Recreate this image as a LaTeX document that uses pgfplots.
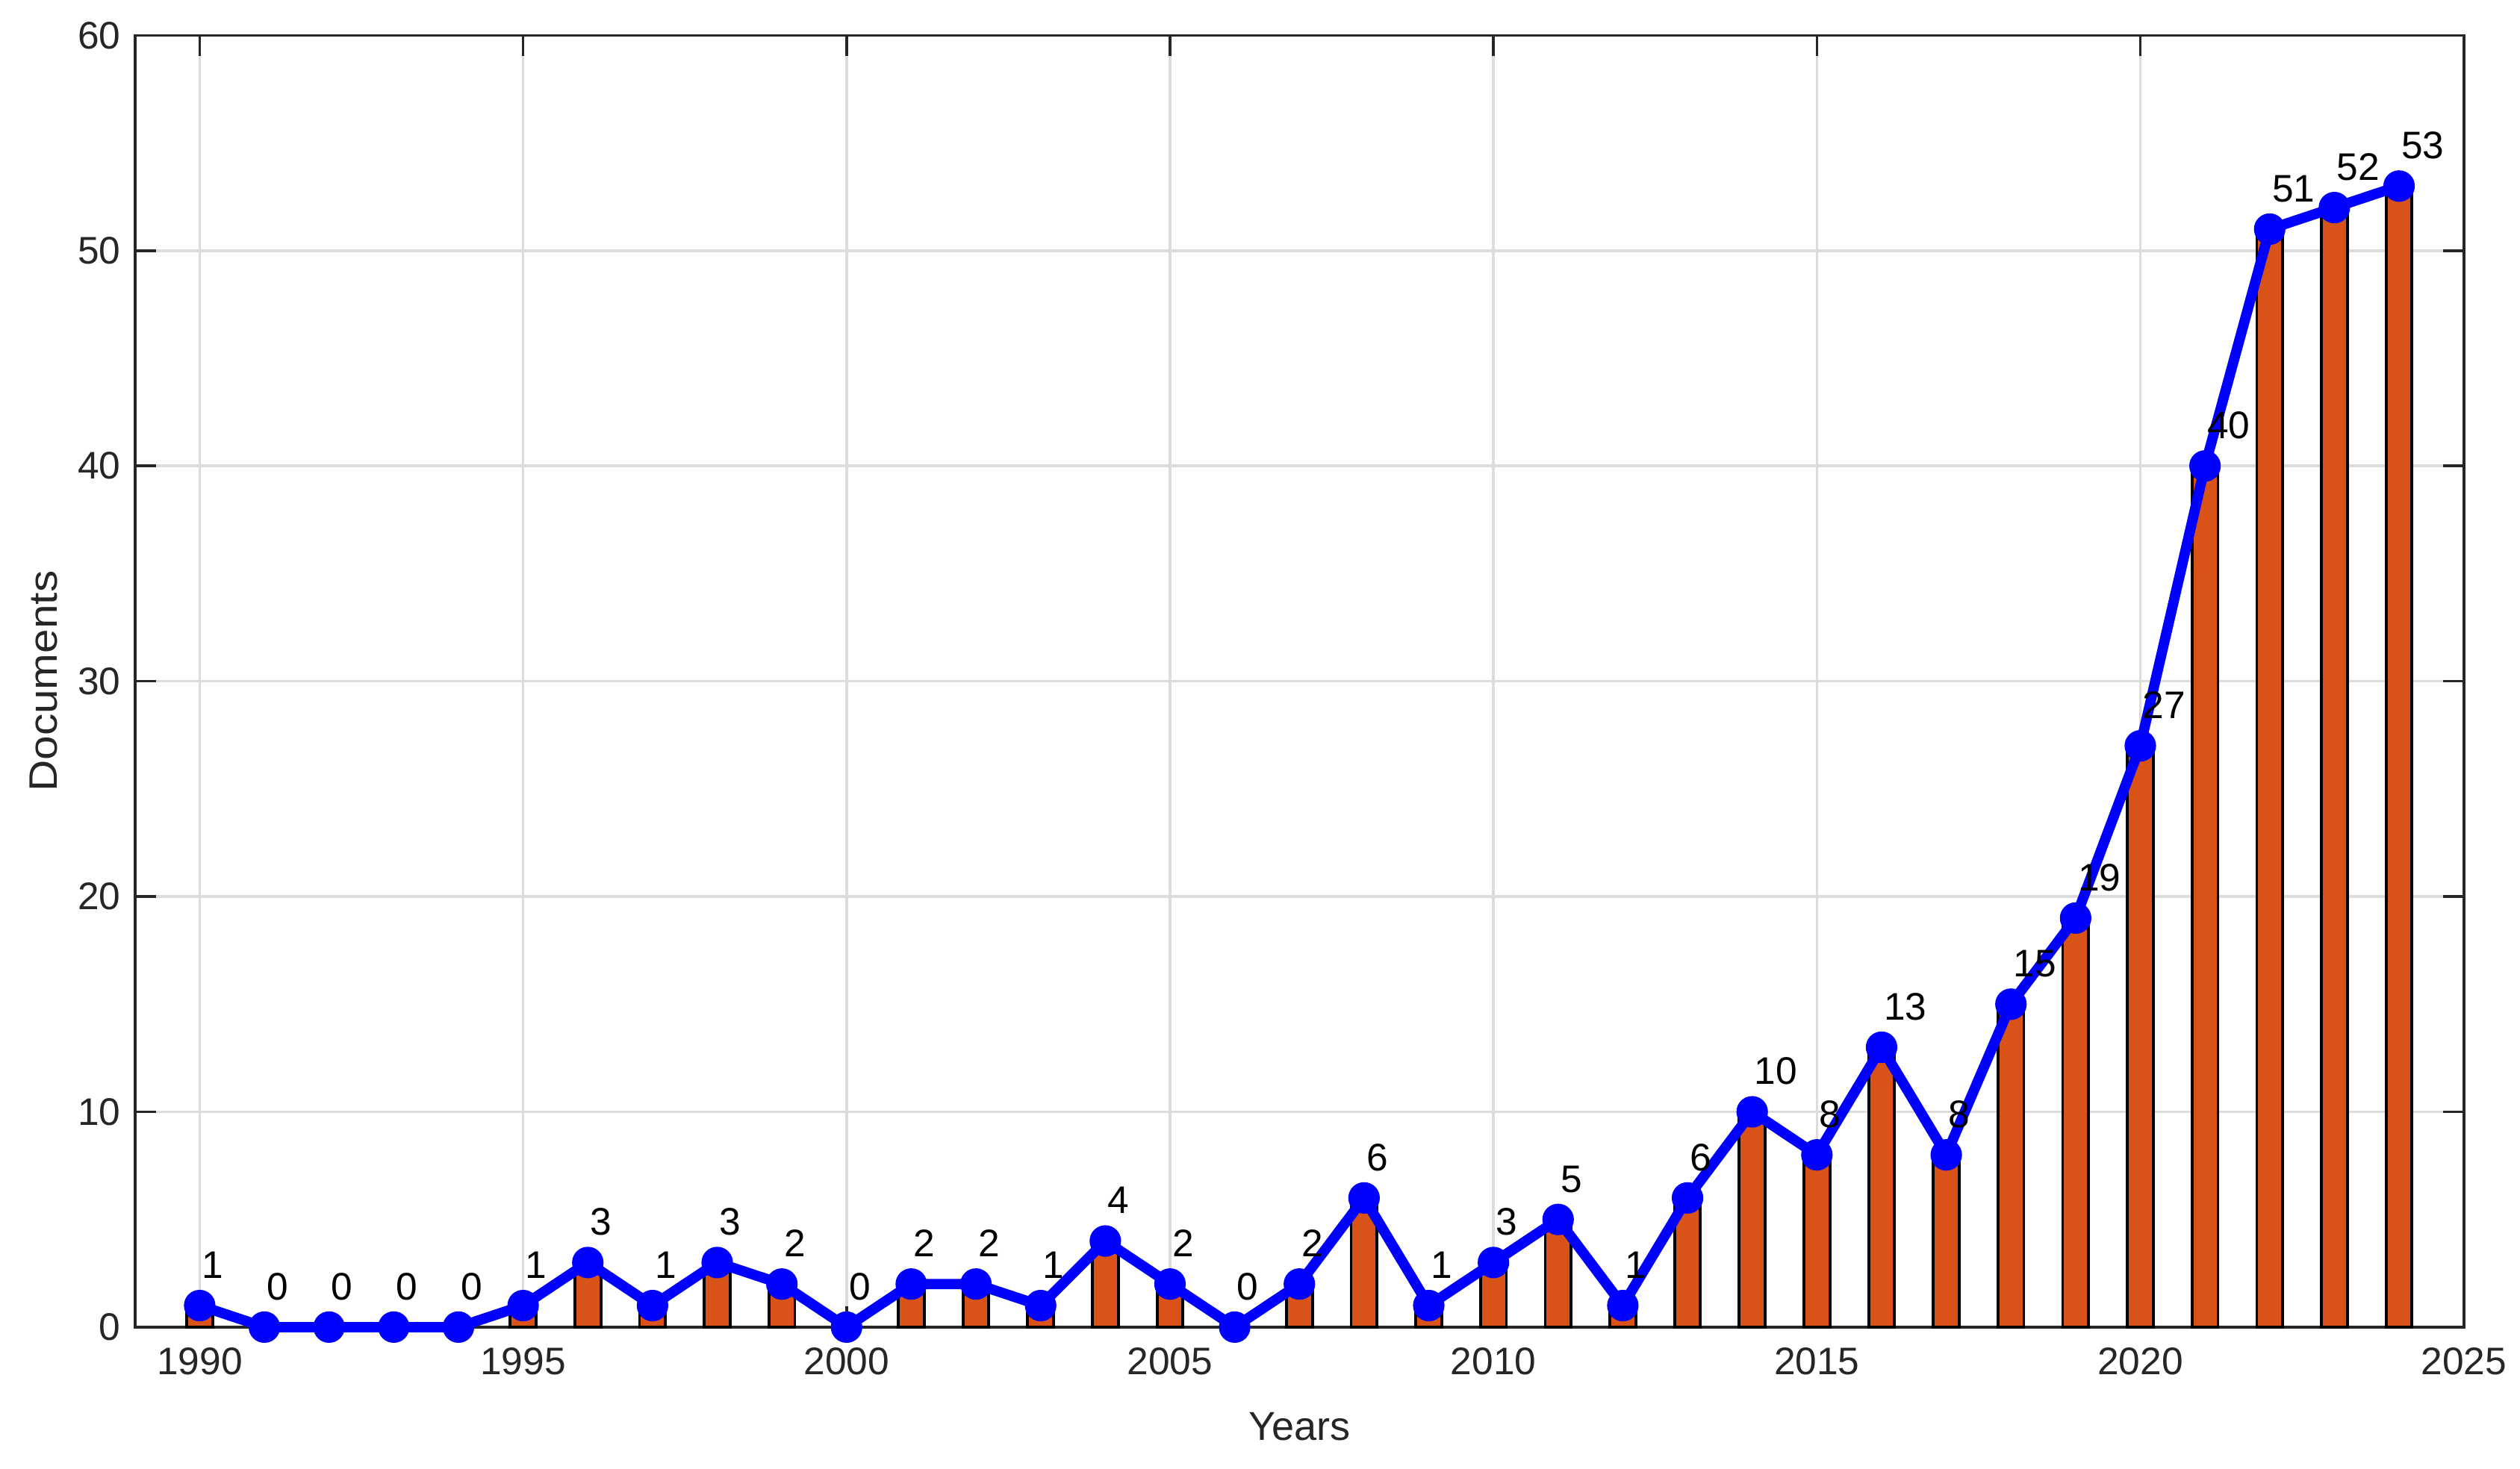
\documentclass[border=0pt]{standalone}
\usepackage{pgfplots}
\pgfplotsset{compat=1.18}
\usepackage{fontspec}
\setmainfont{Liberation Sans}
\definecolor{barorange}{RGB}{217,83,25}
\definecolor{axgray}{RGB}{38,38,38}
\definecolor{gridgray}{RGB}{220,220,220}
\begin{document}
\begin{tikzpicture}
\useasboundingbox (-42bp,-44bp) rectangle (742bp,413bp);
\begin{axis}[
  at={(0,0)}, anchor=south west,
  scale only axis, width=724.5bp, height=402bp,
  xmin=1989, xmax=2025, ymin=0, ymax=60,
  xtick={1990,1995,...,2025}, ytick={0,10,...,60},
  /pgf/number format/assume math mode=true,
  /pgf/number format/set thousands separator={},
  tick label style={font=\fontsize{12}{14}\selectfont, text=axgray},
  label style={text=axgray},
  xlabel={Years}, ylabel={Documents},
  xlabel style={font=\fontsize{12.6}{14}\selectfont, at={(axis description cs:0.5,-0.077)}, anchor=center},
  ylabel style={font=\fontsize{12.4}{14}\selectfont, at={(axis description cs:-0.0393,0.5)}, anchor=center, xscale=1.1},
  xticklabel style={yshift=-3bp},
  yticklabel style={xshift=-1bp},
  tick align=inside, major tick length=6.5bp,
  xtick pos=both, ytick pos=both,
  every tick/.style={axgray, line width=0.8bp},
  axis line style={axgray, line width=0.85bp},
  grid=major, major grid style={gridgray, line width=0.8bp},
  clip=false,
]
\addplot[ybar, bar width=0.4, fill=barorange, draw=black, line width=0.9bp,
  nodes near coords,
  nodes near coords style={anchor=base west, inner sep=0pt, yshift=8.5bp, xshift=0.3bp, text=black, font=\fontsize{12}{14}\selectfont},
] coordinates {
(1990,1) (1991,0) (1992,0) (1993,0) (1994,0) (1995,1) (1996,3) (1997,1) (1998,3) (1999,2)
(2000,0) (2001,2) (2002,2) (2003,1) (2004,4) (2005,2) (2006,0) (2007,2) (2008,6) (2009,1)
(2010,3) (2011,5) (2012,1) (2013,6) (2014,10) (2015,8) (2016,13) (2017,8) (2018,15) (2019,19)
(2020,27) (2021,40) (2022,51) (2023,52) (2024,53)
};
\addplot[blue, line width=3.2bp, mark=*, mark size=4.7bp, mark options={fill=blue, draw=blue, line width=0.4bp}] coordinates {
(1990,1) (1991,0) (1992,0) (1993,0) (1994,0) (1995,1) (1996,3) (1997,1) (1998,3) (1999,2)
(2000,0) (2001,2) (2002,2) (2003,1) (2004,4) (2005,2) (2006,0) (2007,2) (2008,6) (2009,1)
(2010,3) (2011,5) (2012,1) (2013,6) (2014,10) (2015,8) (2016,13) (2017,8) (2018,15) (2019,19)
(2020,27) (2021,40) (2022,51) (2023,52) (2024,53)
};
\end{axis}
\end{tikzpicture}
\end{document}
